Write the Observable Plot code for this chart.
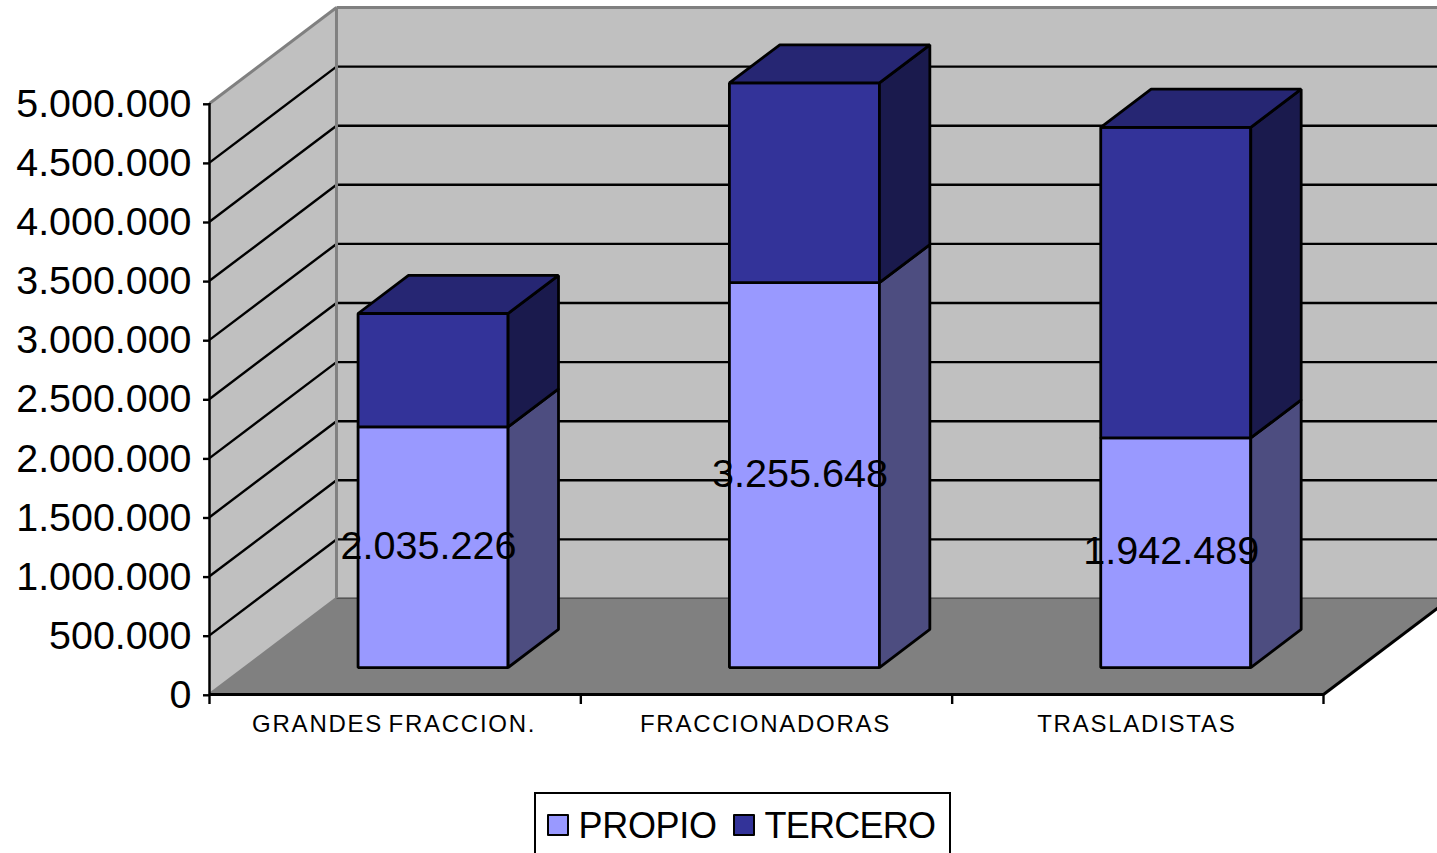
<!DOCTYPE html>
<html>
<head>
<meta charset="utf-8">
<script src="https://cdn.jsdelivr.net/npm/d3@7"></script>
<script src="https://cdn.jsdelivr.net/npm/@observablehq/plot@0.6"></script>
<style>
html,body{margin:0;padding:0;background:#fff;overflow:hidden;height:853px;width:1437px}
#chart svg{display:block;background:transparent}
[aria-label="x-axis tick label"] text{letter-spacing:1.75px;word-spacing:-3px}
#legend{position:absolute;left:533.5px;top:792px;width:413px;height:80px;border:2px solid #000;box-sizing:content-box;font:36px "Liberation Sans",Arial,sans-serif;color:#000;letter-spacing:-.3px}
#legend span{position:absolute;top:10px;line-height:44px;white-space:nowrap}
#legend i{position:absolute;top:20px;width:18px;height:18px;border:2.5px solid #000;border-radius:1px}
</style>
</head>
<body>
<div id="chart"></div>
<div id="legend">
  <i style="left:11px;background:#9999FF"></i><span style="left:43px">PROPIO</span>
  <i style="left:197px;background:#333399"></i><span style="left:229px;letter-spacing:-.75px">TERCERO</span>
</div>
<script>
const categories = ["GRANDES FRACCION.", "FRACCIONADORAS", "TRASLADISTAS"];
const propio = [2035226, 3255648, 1942489];
const tercero = [960000, 1690000, 2628000];
const yTicks = [0, 500000, 1000000, 1500000, 2000000, 2500000, 3000000, 3500000, 4000000, 4500000, 5000000];
const xEdges = [0, 1, 2, 3];
const xCenters = [0.5, 1.5, 2.5];

// oblique projection: depth 0 = front plane, depth 1 = back wall
const depthX = 0.342, depthY = 812000;
const farX = 3.5;
const barOffset = 0.304, barWidth = 0.404, depth0 = 0.281, depth1 = 0.678;
const P = (c, v, d) => ({x: c + d * depthX, y: v + d * depthY});

const faces = [];
function face(fill, pts) {
  const id = faces.length ? faces[faces.length - 1].id + 1 : 0;
  for (const [c, v, d] of pts) faces.push({id, fill, ...P(c, v, d)});
}
function box(c, v0, v1, front, side, top) {
  const a = c + barOffset, b = a + barWidth;
  face(front, [[a, v0, depth0], [b, v0, depth0], [b, v1, depth0], [a, v1, depth0]]);
  face(side, [[b, v0, depth0], [b, v0, depth1], [b, v1, depth1], [b, v1, depth0]]);
  if (top) face(top, [[a, v1, depth0], [b, v1, depth0], [b, v1, depth1], [a, v1, depth1]]);
}
categories.forEach((_, i) => {
  box(i, 0, propio[i], "#9999FF", "#4D4D80", null);
  box(i, propio[i], propio[i] + tercero[i], "#333399", "#1A1A4D", "#262673");
});

const wallBack = [[0, 0, 1], [farX, 0, 1], [farX, 5000000, 1], [0, 5000000, 1]].map(p => P(...p));
const wallSide = [[0, 0, 0], [0, 0, 1], [0, 5000000, 1], [0, 5000000, 0]].map(p => P(...p));
const floor = [[0, 0, 0], [3, 0, 0], [3, 0, 1], [farX, 0, 1], [0, 0, 1]].map(p => P(...p));
const link = (a, b) => { const s = P(...a), e = P(...b); return {x1: s.x, y1: s.y, x2: e.x, y2: e.y}; };

const gridTicks = yTicks.slice(1, -1);
const sideGrid = gridTicks.map(v => link([0, v, 0], [0, v, 1]));
const backGrid = gridTicks.map(v => link([0, v, 1], [farX, v, 1]));
const grayEdges = [
  link([0, 5000000, 0], [0, 5000000, 1]),
  link([0, 5000000, 1], [farX, 5000000, 1]),
  link([0, 0, 1], [0, 5000000, 1]),
  link([0, 0, 0], [0, 0, 1]),
  link([0, 0, 1], [farX, 0, 1])
];
const blackEdges = [link([3, 0, 0], [3, 0, 1])];

const labels = categories.map((_, i) => ({
  ...P(i + barOffset + barWidth / 2, propio[i] / 2, depth0),
  text: d3.format(",")(propio[i]).replace(/,/g, ".")
}));

const font = "'Liberation Sans', Arial, sans-serif";
const L = (opts) => Plot.link(opts.data, {x1: "x1", y1: "y1", x2: "x2", y2: "y2", stroke: opts.stroke, strokeWidth: opts.w});

const plot = Plot.plot({
  width: 1437, height: 793,
  marginLeft: 209, marginRight: 114, marginTop: 103, marginBottom: 99,
  style: {fontFamily: font, background: "transparent", overflow: "visible", color: "#000"},
  x: {type: "linear", domain: [0, 3]},
  y: {type: "linear", domain: [0, 5000000]},
  marks: [
    Plot.line(wallBack, {x: "x", y: "y", fill: "#C0C0C0", stroke: "none", curve: "linear-closed"}),
    Plot.line(wallSide, {x: "x", y: "y", fill: "#C0C0C0", stroke: "none", curve: "linear-closed"}),
    Plot.line(floor, {x: "x", y: "y", fill: "#808080", stroke: "none", curve: "linear-closed"}),
    L({data: sideGrid, stroke: "#000", w: 2.4}),
    L({data: backGrid, stroke: "#000", w: 2.4}),
    L({data: grayEdges, stroke: "#808080", w: 3}),
    L({data: [link([0, 0, 1], [farX, 0, 1])], stroke: "#555", w: 1}),
    L({data: blackEdges, stroke: "#000", w: 3}),
    Plot.line(faces, {x: "x", y: "y", z: "id", fill: "fill", stroke: "#000", strokeWidth: 2.8, strokeLinejoin: "miter", curve: "linear-closed"}),
    Plot.ruleX([0], {y1: 0, y2: 5000000, stroke: "#000", strokeWidth: 2.5}),
    Plot.ruleY([0], {x1: 0, x2: 3, stroke: "#000", strokeWidth: 3.2}),
    Plot.axisY({
      ticks: yTicks, tickSize: 6, tickPadding: 12, fontSize: 39.4, dy: 0.8,
      tickFormat: d => d3.format(",")(d).replace(/,/g, "."), label: null, stroke: "#000", strokeWidth: 2.4
    }),
    Plot.axisX({ticks: xEdges, tickSize: 10, tickFormat: () => "", label: null, stroke: "#000", strokeWidth: 2.4}),
    Plot.axisX({
      ticks: xCenters, tickSize: 0, tickPadding: 20, fontSize: 24, dx: -1,
      tickFormat: d => categories[Math.floor(d)], label: null
    }),
    Plot.text(labels, {x: "x", y: "y", text: "text", fontSize: 39.6, fill: "#000", dx: -4.5, dy: -1})
  ]
});
document.getElementById("chart").appendChild(plot);
</script>
</body>
</html>
